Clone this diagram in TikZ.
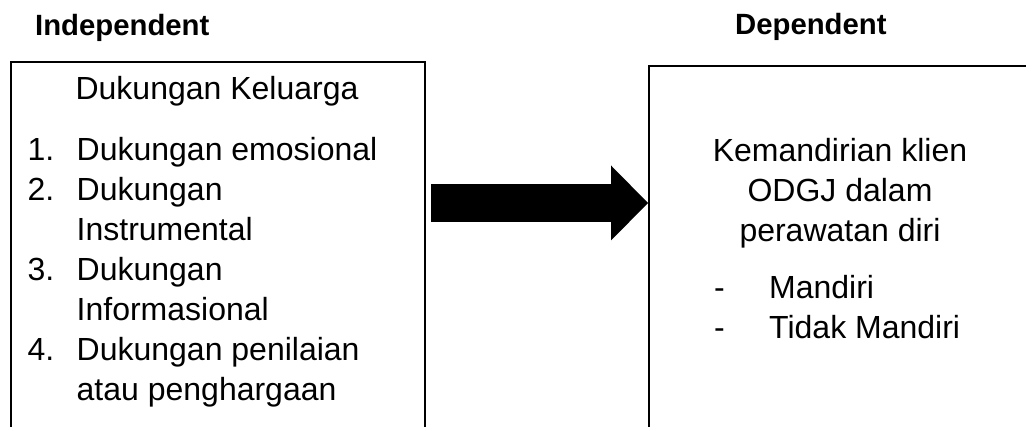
\documentclass[tikz,border=0pt]{standalone}
\usepackage{fontspec}
\setmainfont{Liberation Sans}
\usepackage{tikz}
\usetikzlibrary{positioning,arrows.meta,calc}

\begin{document}
\begin{tikzpicture}[x=1pt, y=1pt,
        varbox/.style={draw, rectangle, line width=2pt, inner sep=0pt, anchor=north west},
        headtext/.style={font=\bfseries\fontsize{29.3}{35}\selectfont, inner sep=0pt, anchor=base west},
        bodytext/.style={font=\fontsize{32}{40}\selectfont, inner sep=0pt}]
        \useasboundingbox (0,0) rectangle (1026,427);

        % Independent
        \node[varbox, minimum width=414pt, minimum height=400pt] (indepbox) at (10,366) {};
        \node[headtext] (indeptitle) at (35,391) {Independent};
        \node[bodytext, anchor=base] (keluarga) at (217,327) {Dukungan Keluarga};
        \node[bodytext, anchor=base west] (dukunganlist) at (27.5,266)
            {\begin{tabular}[t]{@{}p{49pt}@{}l@{}}
                1. & Dukungan emosional\\
                2. & Dukungan\\
                   & Instrumental\\
                3. & Dukungan\\
                   & Informasional\\
                4. & Dukungan penilaian\\
                   & atau penghargaan
            \end{tabular}};

        % Dependent
        \node[varbox, minimum width=400pt, minimum height=400pt] (depbox) at (648,362) {};
        \node[headtext] (deptitle) at (735,392) {Dependent};
        \node[bodytext, anchor=base] (kemandirian) at (840,265)
            {\begin{tabular}[t]{@{}c@{}}
                Kemandirian klien\\
                ODGJ dalam\\
                perawatan diri
            \end{tabular}};
        \node[bodytext, anchor=base west] (mandirilist) at (714,128)
            {\begin{tabular}[t]{@{}p{55pt}@{}l@{}}
                - & Mandiri\\
                - & Tidak Mandiri
            \end{tabular}};

        % Arrow
        \coordinate (arrowy) at (0,224);
        \draw[line width=38pt, -{Triangle[length=37pt, width=75pt, line width=0pt]}]
            ($(indepbox.east |- arrowy)+(5,0)$) -- (depbox.west |- arrowy);
\end{tikzpicture}
\end{document}
